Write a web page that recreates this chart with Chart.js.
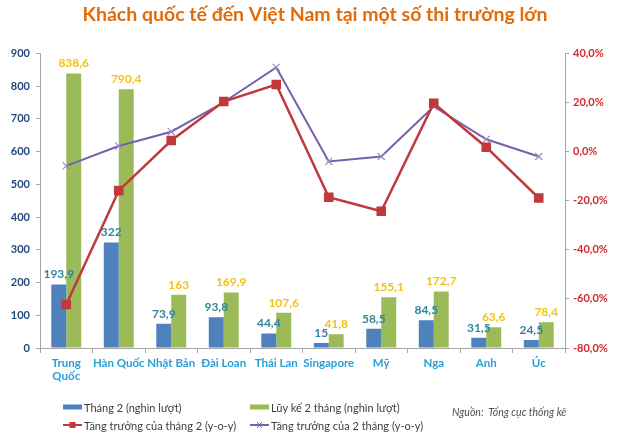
<!DOCTYPE html>
<html>
<head>
<meta charset="utf-8">
<script src="https://cdn.jsdelivr.net/npm/chart.js@4.4.1/dist/chart.umd.min.js"></script>
<style>
  html, body { margin: 0; padding: 0; background: #fff; }
  #wrap { position: relative; width: 630px; height: 434px; }
  #legend { position: absolute; left: 0; top: 0; font: 11px Lato, sans-serif; color: #404040; }
  .item { position: absolute; white-space: nowrap; display: flex; align-items: center; height: 16px; }
  .item svg { margin-right: 2px; }
  #source { position: absolute; left: 452px; top: 406px; font: italic 10.5px Lato, sans-serif; color: #505050; white-space: nowrap; }
</style>
</head>
<body>
<div id="wrap">
  <canvas id="chart" width="630" height="434"></canvas>
  <div id="legend"></div>
  <div id="source">Nguồn:&nbsp; Tổng cục thống kê</div>
</div>
<script>
// categories and values
const markets = [["Trung", "Quốc"], "Hàn Quốc", "Nhật Bản", "Đài Loan", "Thái Lan", "Singapore", "Mỹ", "Nga", "Anh", "Úc"];
const thang2 = [193.9, 322, 73.9, 93.8, 44.4, 15, 58.5, 84.5, 31.5, 24.5];
const luyKe2Thang = [838.6, 790.4, 163, 169.9, 107.6, 41.8, 155.1, 172.7, 63.6, 78.4];
const tangTruongThang2 = [-62.3, -15.9, 4.5, 20.4, 27.3, -18.6, -24.3, 19.7, 1.8, -18.9];
const tangTruong2Thang = [-5.8, 2.3, 8.1, 20.1, 34.3, -4.0, -2.0, 18.4, 5.0, -2.0];

const fmt = (v) => String(v).replace(".", ",");
const axisGray = "#a6a6a6";

// value labels over the bars
const barLabels = {
  id: "barLabels",
  afterDatasetsDraw(chart) {
    const ctx = chart.ctx;
    chart.data.datasets.forEach((ds, i) => {
      if (ds.type !== "bar") return;
      const meta = chart.getDatasetMeta(i);
      ctx.save();
      ctx.font = "bold 12px Lato, sans-serif";
      ctx.fillStyle = ds.labelColor;
      ctx.textAlign = "center";
      ctx.textBaseline = "bottom";
      meta.data.forEach((bar, j) => {
        ctx.fillText(fmt(ds.data[j]), bar.x, bar.y - 4);
      });
      ctx.restore();
    });
  }
};

const chart = new Chart(document.getElementById("chart"), {
  data: {
    labels: markets,
    datasets: [
      {
        type: "bar",
        label: "Tháng 2 (nghìn lượt)",
        data: thang2,
        backgroundColor: "#4f81bd",
        labelColor: "#31859c",
        yAxisID: "y",
        order: 2,
        categoryPercentage: 0.57,
        barPercentage: 1.0
      },
      {
        type: "bar",
        label: "Lũy kế 2 tháng (nghìn lượt)",
        data: luyKe2Thang,
        backgroundColor: "#9bbb59",
        labelColor: "#f2c314",
        yAxisID: "y",
        order: 2,
        categoryPercentage: 0.57,
        barPercentage: 1.0
      },
      {
        type: "line",
        label: "Tăng trưởng của tháng 2 (y-o-y)",
        data: tangTruongThang2,
        borderColor: "#c0393b",
        backgroundColor: "#c0393b",
        borderWidth: 2.5,
        pointStyle: "rect",
        pointRadius: 5,
        yAxisID: "y1",
        order: 0
      },
      {
        type: "line",
        label: "Tăng trưởng của 2 tháng (y-o-y)",
        data: tangTruong2Thang,
        borderColor: "#7660aa",
        backgroundColor: "#7660aa",
        borderWidth: 2,
        pointStyle: "crossRot",
        pointRadius: 5,
        pointBorderColor: "#9a8cc0",
        pointBorderWidth: 1.2,
        yAxisID: "y1",
        order: 1
      }
    ]
  },
  options: {
    responsive: false,
    animation: false,
    devicePixelRatio: 1,
    layout: { padding: 0 },
    plugins: {
      legend: { display: false },
      tooltip: { enabled: false },
      title: {
        display: true,
        text: "Khách quốc tế đến Việt Nam tại một số thi trường lớn",
        color: "#e36c0a",
        font: { family: "Lato, sans-serif", size: 19.5, weight: "bold" },
        padding: { top: 3, bottom: 27 }
      }
    },
    scales: {
      x: {
        grid: { drawOnChartArea: false, color: axisGray, tickLength: 5, offset: true },
        border: { color: axisGray },
        ticks: {
          color: "#2a9fd6",
          font: { family: "Lato, sans-serif", size: 11.5, weight: "bold" },
          padding: 3,
          maxRotation: 0,
          autoSkip: false
        },
        afterFit: (s) => { s.height = 86; }
      },
      y: {
        position: "left",
        min: 0,
        max: 900,
        grid: { drawOnChartArea: false, color: axisGray, tickLength: 4 },
        border: { color: axisGray },
        ticks: {
          stepSize: 100,
          color: "#1f497d",
          font: { family: "Lato, sans-serif", size: 11, weight: "bold" },
          padding: 6
        },
        afterFit: (s) => { s.width = 40; }
      },
      y1: {
        position: "right",
        min: -80,
        max: 40,
        grid: { drawOnChartArea: false, color: axisGray, tickLength: 4 },
        border: { color: axisGray },
        ticks: {
          stepSize: 20,
          color: "#d02a2e",
          font: { family: "Lato, sans-serif", size: 11, weight: "bold" },
          padding: 4,
          callback: (v) => v.toFixed(1).replace(".", ",") + "%"
        },
        afterFit: (s) => { s.width = 65; }
      }
    }
  },
  plugins: [barLabels]
});

// legend built from the chart's datasets, laid out in two columns like the original
const legendPos = [[63, 399], [250, 399], [63, 417], [250, 417]];
const legendEl = document.getElementById("legend");
chart.data.datasets.forEach((ds, i) => {
  const c = ds.backgroundColor;
  let swatch;
  if (ds.type === "bar") {
    swatch = `<svg width="19" height="8"><rect x="0" y="1.5" width="19" height="5" fill="${c}"/></svg>`;
  } else if (ds.pointStyle === "rect") {
    swatch = `<svg width="19" height="8"><line x1="0" y1="4" x2="19" y2="4" stroke="${c}" stroke-width="2"/><rect x="6.5" y="1" width="6" height="6" fill="${c}"/></svg>`;
  } else {
    swatch = `<svg width="19" height="8"><line x1="0" y1="4" x2="19" y2="4" stroke="${c}" stroke-width="2"/><path d="M7 1 L12 7 M12 1 L7 7" stroke="${c}" stroke-width="1"/></svg>`;
  }
  const div = document.createElement("div");
  div.className = "item";
  div.style.left = legendPos[i][0] + "px";
  div.style.top = legendPos[i][1] + "px";
  div.innerHTML = swatch + "<span>" + ds.label + "</span>";
  legendEl.appendChild(div);
});
</script>
</body>
</html>
